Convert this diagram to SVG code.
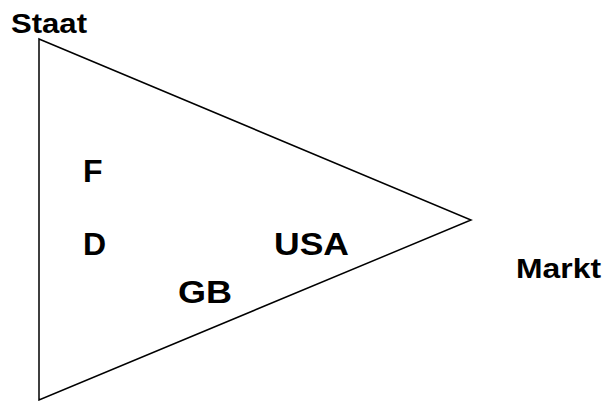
<svg xmlns="http://www.w3.org/2000/svg" width="602" height="401" viewBox="0 0 602 401">
  <style>
    .lbl { font-family: "Liberation Sans", Arial, sans-serif; font-weight: bold; fill: #000; }
    .axis { font-size: 27px; }
    .country { font-size: 32px; }
    .frame { fill: none; stroke: #000; stroke-width: 1.5; stroke-linejoin: miter; }
  </style>
  <rect width="602" height="401" fill="#fff"/>
  <g id="connectors">
    <polygon class="frame" points="39,39 471,220 39,400"/>
  </g>
  <g id="staat"><text class="lbl axis" x="11" y="32.7" textLength="76" lengthAdjust="spacingAndGlyphs">Staat</text></g>
  <g id="markt"><text class="lbl axis" x="516" y="278.3" textLength="85" lengthAdjust="spacingAndGlyphs">Markt</text></g>
  <g id="f"><text class="lbl country" x="83" y="182.3">F</text></g>
  <g id="d"><text class="lbl country" x="83" y="255.3">D</text></g>
  <g id="usa"><text class="lbl country" x="274" y="255.3" textLength="75" lengthAdjust="spacingAndGlyphs">USA</text></g>
  <g id="gb"><text class="lbl country" x="178" y="303.3" textLength="54" lengthAdjust="spacingAndGlyphs">GB</text></g>
</svg>
